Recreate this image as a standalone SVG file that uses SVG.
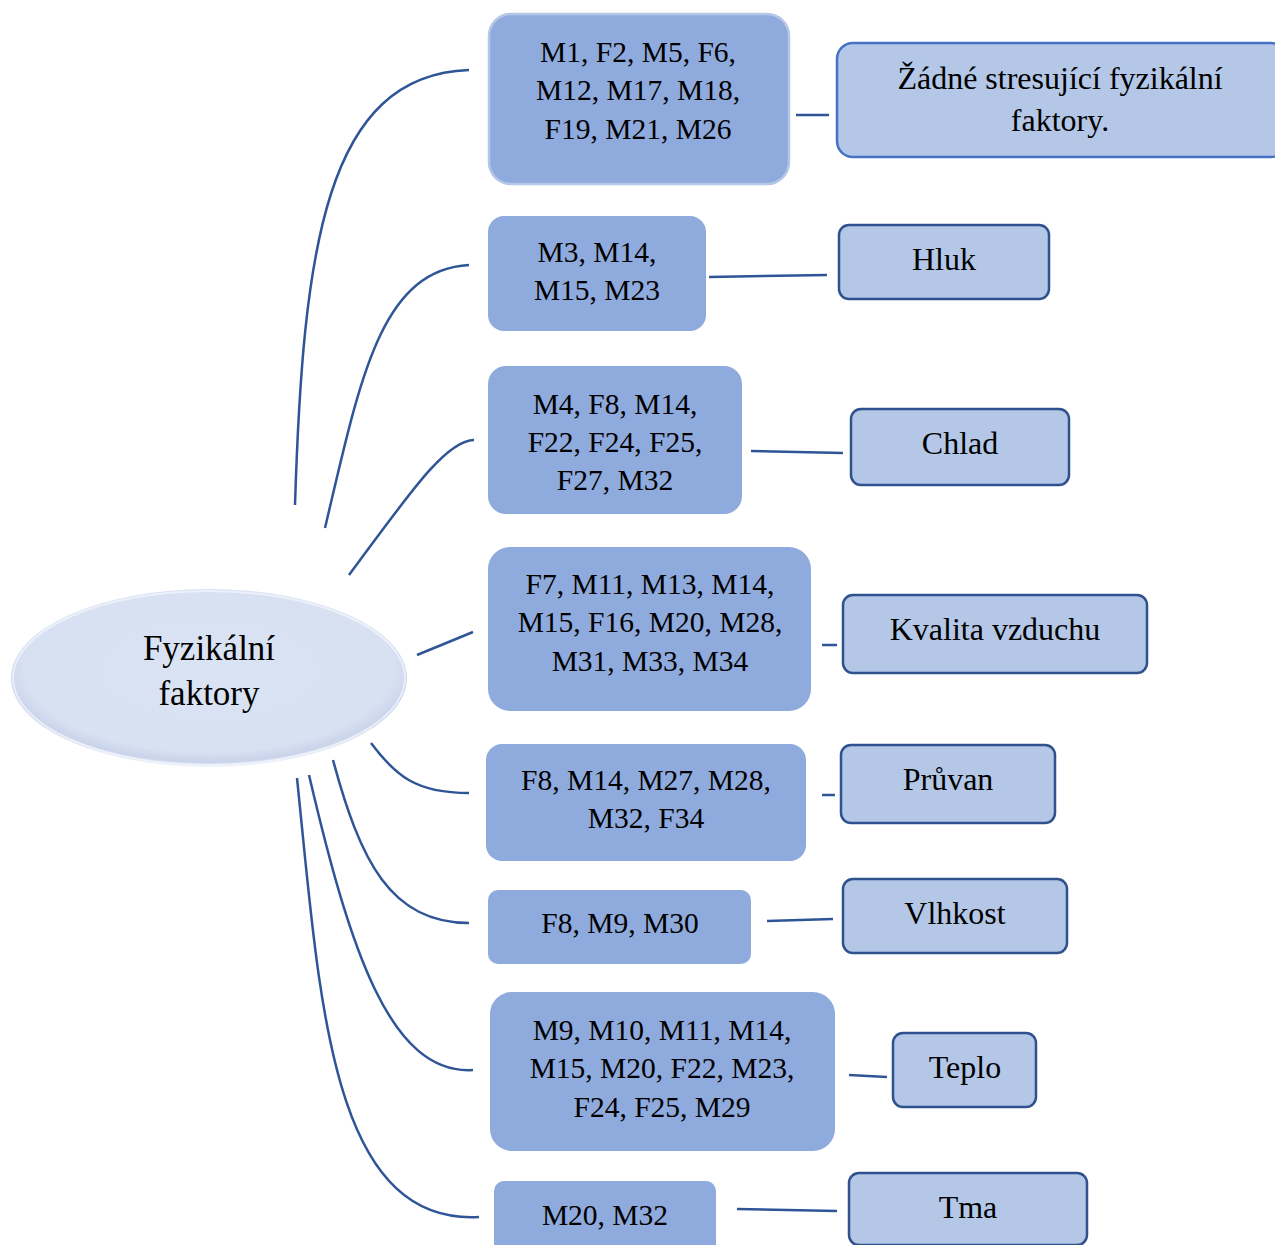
<svg xmlns="http://www.w3.org/2000/svg" width="1275" height="1245" viewBox="0 0 1275 1245">
<defs>
<radialGradient id="eg" cx="0.5" cy="0.45" r="0.55">
<stop offset="0" stop-color="#DAE3F3"/>
<stop offset="0.85" stop-color="#D8E1F2"/>
<stop offset="0.95" stop-color="#C9D3EA"/>
<stop offset="1" stop-color="#F2F5FB"/>
</radialGradient>
</defs>
<style>
text{font-family:"Liberation Serif","Times New Roman",serif;fill:#000;text-anchor:middle}
.mid{fill:#8FAADC}
.res{fill:#B4C7E7;stroke:#2F528F;stroke-width:2.5}
.t{font-size:29.5px}
.r{font-size:32px}
.c{fill:none;stroke:#2F5597;stroke-width:2.5}
</style>
<g id="center">
<ellipse cx="209" cy="678" rx="198" ry="89" fill="url(#eg)"/>
<ellipse cx="209" cy="678" rx="196" ry="87" fill="none" stroke="#F4F7FC" stroke-width="2" opacity="0.7"/>
<text x="209" y="660" font-size="35">Fyzikální</text>
<text x="209" y="705" font-size="35">faktory</text>
</g>
<g id="connectors">
<path class="c" d="M295,505 C303,250 325,75 469,70"/>
<path class="c" d="M325,528 C360,380 380,270 469,265"/>
<path class="c" d="M349,575 C405,500 445,440 474,440"/>
<path class="c" d="M417,655 L473,632"/>
<path class="c" d="M371,743 C395,775 415,793 469,793"/>
<path class="c" d="M333,760 C360,860 390,923 469,923"/>
<path class="c" d="M309,775 C350,950 390,1075 473,1070"/>
<path class="c" d="M297,778 C320,1000 330,1225 479,1217"/>
<path class="c" d="M796,115 L829,115"/>
<path class="c" d="M709,277 L827,275"/>
<path class="c" d="M751,451 L843,453"/>
<path class="c" d="M822,645 L837,645"/>
<path class="c" d="M822,795 L835,795"/>
<path class="c" d="M767,921 L833,919"/>
<path class="c" d="M849,1075 L887,1077"/>
<path class="c" d="M737,1209 L837,1211"/>
</g>
<g id="g1">
<rect class="mid" x="489" y="14" width="300" height="170" rx="22" stroke="#B4C7E7" stroke-width="2.5"/>
<text class="t" x="638" y="62">M1, F2, M5, F6,</text>
<text class="t" x="638" y="100">M12, M17, M18,</text>
<text class="t" x="638" y="139">F19, M21, M26</text>
</g>
<g id="g2">
<rect class="mid" x="488" y="216" width="218" height="115" rx="16"/>
<text class="t" x="597" y="262">M3, M14,</text>
<text class="t" x="597" y="300">M15, M23</text>
</g>
<g id="g3">
<rect class="mid" x="488" y="366" width="254" height="148" rx="18"/>
<text class="t" x="615" y="414">M4, F8, M14,</text>
<text class="t" x="615" y="452">F22, F24, F25,</text>
<text class="t" x="615" y="490">F27, M32</text>
</g>
<g id="g4">
<rect class="mid" x="488" y="547" width="323" height="164" rx="22"/>
<text class="t" x="650" y="594">F7, M11, M13, M14,</text>
<text class="t" x="650" y="632">M15, F16, M20, M28,</text>
<text class="t" x="650" y="671">M31, M33, M34</text>
</g>
<g id="g5">
<rect class="mid" x="486" y="744" width="320" height="117" rx="16"/>
<text class="t" x="646" y="790">F8, M14, M27, M28,</text>
<text class="t" x="646" y="828">M32, F34</text>
</g>
<g id="g6">
<rect class="mid" x="488" y="890" width="263" height="74" rx="10"/>
<text class="t" x="620" y="933">F8, M9, M30</text>
</g>
<g id="g7">
<rect class="mid" x="490" y="992" width="345" height="159" rx="22"/>
<text class="t" x="662" y="1040">M9, M10, M11, M14,</text>
<text class="t" x="662" y="1078">M15, M20, F22, M23,</text>
<text class="t" x="662" y="1117">F24, F25, M29</text>
</g>
<g id="g8">
<rect class="mid" x="494" y="1181" width="222" height="80" rx="10"/>
<text class="t" x="605" y="1225">M20, M32</text>
</g>
<g id="r1">
<rect x="837" y="43" width="450" height="114" rx="16" fill="#B4C7E7" stroke="#4472C4" stroke-width="2.5"/>
<text class="r" x="1060" y="89">Žádné stresující fyzikální</text>
<text class="r" x="1060" y="131">faktory.</text>
</g>
<g id="r2">
<rect class="res" x="839" y="225" width="210" height="74" rx="10"/>
<text class="r" x="944" y="270">Hluk</text>
</g>
<g id="r3">
<rect class="res" x="851" y="409" width="218" height="76" rx="10"/>
<text class="r" x="960" y="454">Chlad</text>
</g>
<g id="r4">
<rect class="res" x="843" y="595" width="304" height="78" rx="10"/>
<text class="r" x="995" y="640">Kvalita vzduchu</text>
</g>
<g id="r5">
<rect class="res" x="841" y="745" width="214" height="78" rx="10"/>
<text class="r" x="948" y="790">Průvan</text>
</g>
<g id="r6">
<rect class="res" x="843" y="879" width="224" height="74" rx="10"/>
<text class="r" x="955" y="924">Vlhkost</text>
</g>
<g id="r7">
<rect class="res" x="893" y="1033" width="143" height="74" rx="10"/>
<text class="r" x="965" y="1078">Teplo</text>
</g>
<g id="r8">
<rect class="res" x="849" y="1173" width="238" height="72" rx="10"/>
<text class="r" x="968" y="1218">Tma</text>
</g>
</svg>
